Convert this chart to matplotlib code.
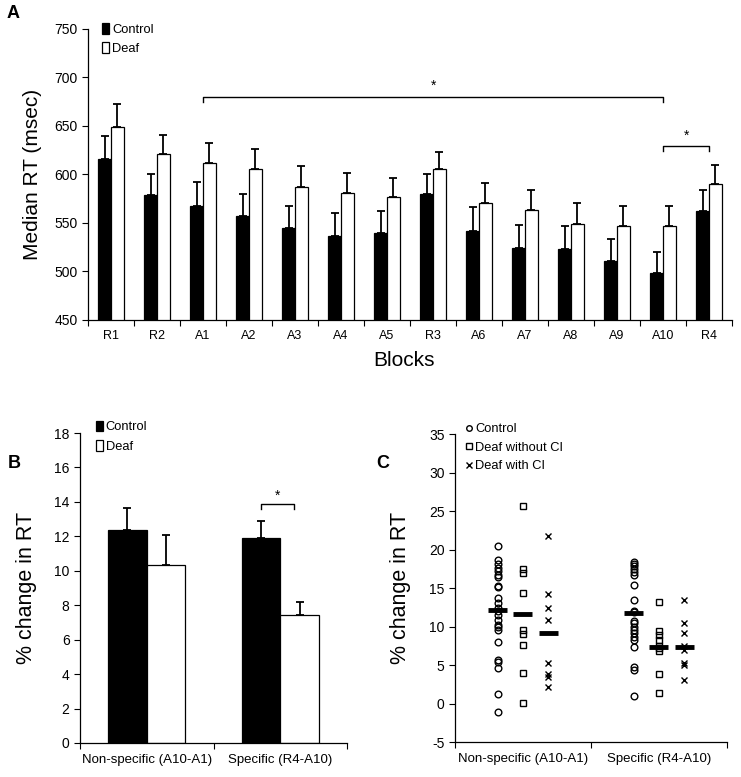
import matplotlib
matplotlib.use("Agg")
import matplotlib.pyplot as plt
import numpy as np
from matplotlib.lines import Line2D

plt.rcParams['font.family'] = ['Liberation Sans', 'DejaVu Sans']
plt.rcParams['axes.unicode_minus'] = False

# ---- panel A : median RT per block
blocks = ['R1', 'R2', 'A1', 'A2', 'A3', 'A4', 'A5', 'R3', 'A6', 'A7', 'A8', 'A9', 'A10', 'R4']
control_rt = [615.6, 578.9, 567.9, 556.9, 544.8, 536.6, 539.3, 580.2, 542.1, 524.6, 523.2, 510.8, 498.8, 562.7]
control_err = [24.4, 21.6, 24.4, 23.3, 22.7, 23.4, 23.1, 20.3, 24.1, 23.7, 23.7, 22.7, 21.0, 21.3]
deaf_rt = [649.3, 620.8, 611.5, 605.7, 586.8, 581.3, 577.1, 605.7, 570.6, 563.7, 548.6, 547.3, 547.3, 589.9]
deaf_err = [23.0, 20.2, 21.3, 20.3, 21.6, 20.6, 18.9, 17.5, 20.3, 20.3, 21.7, 20.6, 20.6, 20.2]

# ---- panel B : % change in RT
phases = ['Non-specific (A10-A1)', 'Specific (R4-A10)']
change_control = [12.35, 11.9]
change_control_err = [1.3, 1.0]
change_deaf = [10.35, 7.45]
change_deaf_err = [1.7, 0.75]

# ---- panel C : individual % change
ctrl_ns = [20.4, 18.6, 18.1, 17.6, 17.2, 16.7, 16.4, 15.3, 15.1, 13.7, 13.0, 12.4, 12.0, 11.5,
           10.9, 10.2, 9.9, 9.6, 8.0, 5.7, 5.4, 4.6, 1.3, -1.1]
nocl_ns = [25.6, 17.5, 17.0, 14.4, 9.5, 9.0, 7.6, 4.0, 0.1]
ci_ns = [21.7, 14.2, 12.4, 10.8, 5.3, 3.9, 3.4, 2.2]
ctrl_sp = [18.4, 18.1, 17.8, 17.5, 17.1, 16.7, 15.4, 13.4, 11.9, 12.0, 10.7, 10.4, 10.0, 9.5,
           9.2, 8.7, 8.2, 7.3, 4.7, 4.3, 1.0]
nocl_sp = [13.2, 9.4, 8.9, 8.2, 7.5, 7.2, 6.8, 3.8, 1.35]
ci_sp = [13.5, 10.4, 9.2, 7.5, 7.0, 5.2, 5.0, 3.0]
group_means = {'ctrl': [12.2, 11.8], 'nocl': [11.6, 7.35], 'ci': [9.2, 7.4]}

fig = plt.figure(figsize=(7.41, 7.77), dpi=100)

tick_kw = dict(direction='out', length=4, width=0.8, color='black')


def style_axes(ax):
    for s in ['top', 'right']:
        ax.spines[s].set_visible(False)
    for s in ['left', 'bottom']:
        ax.spines[s].set_linewidth(0.9)


# ================= A
axA = fig.add_axes([0.1188, 0.5882, 0.8691, 0.3745])
style_axes(axA)
n = len(blocks)
xa = np.arange(n) + 0.5
wa = 0.28
axA.bar(xa - wa / 2, control_rt, wa, color='black', edgecolor='black', lw=0.9, label='Control')
axA.bar(xa + wa / 2, deaf_rt, wa, color='white', edgecolor='black', lw=0.9, label='Deaf')
axA.errorbar(xa - wa / 2, control_rt, yerr=[np.zeros(n), control_err], fmt='none',
             ecolor='black', elinewidth=1.3, capsize=2.6, capthick=1.3)
axA.errorbar(xa + wa / 2, deaf_rt, yerr=[np.zeros(n), deaf_err], fmt='none',
             ecolor='black', elinewidth=1.3, capsize=2.6, capthick=1.3)
axA.set_xlim(0, n)
axA.set_ylim(450, 750)
axA.set_yticks(np.arange(450, 751, 50))
axA.set_xticks(np.arange(n + 1))
axA.set_xticklabels([])
axA.set_xticks(xa, minor=True)
axA.set_xticklabels(blocks, minor=True, fontsize=9)
axA.tick_params(axis='x', which='minor', length=0, pad=7)
axA.tick_params(axis='both', which='major', labelsize=10, **tick_kw)
axA.set_ylabel('Median RT (msec)', fontsize=15)
axA.yaxis.set_label_coords(-0.072, 0.5)
axA.set_xlabel('Blocks', fontsize=15)
axA.xaxis.set_label_coords(0.49, -0.105)

# significance brackets
i1, i2, i3 = blocks.index('A1'), blocks.index('A10'), blocks.index('R4')
axA.plot([xa[i1], xa[i1], xa[i2], xa[i2]], [675, 680, 680, 675], color='black', lw=1)
axA.text((xa[i1] + xa[i2]) / 2, 684, '*', ha='center', va='bottom', fontsize=10)
axA.plot([xa[i2], xa[i2], xa[i3], xa[i3]], [624.5, 629.5, 629.5, 624.5], color='black', lw=1)
axA.text((xa[i2] + xa[i3]) / 2, 633, '*', ha='center', va='bottom', fontsize=10)

axA.legend(loc='upper left', bbox_to_anchor=(0.022, 1.02), frameon=False, fontsize=9.3,
           handlelength=0.55, handleheight=0.9, handletextpad=0.2, labelspacing=0.5,
           borderaxespad=0, borderpad=0)

# ================= B
axB = fig.add_axes([0.108, 0.0438, 0.3603, 0.3989])
style_axes(axB)
xb = np.arange(len(phases)) + 0.5
wb = 0.29
axB.bar(xb - wb / 2, change_control, wb, color='black', edgecolor='black', lw=0.9, label='Control')
axB.bar(xb + wb / 2, change_deaf, wb, color='white', edgecolor='black', lw=0.9, label='Deaf')
axB.errorbar(xb - wb / 2, change_control, yerr=[np.zeros(2), change_control_err], fmt='none',
             ecolor='black', elinewidth=1.3, capsize=2.6, capthick=1.3)
axB.errorbar(xb + wb / 2, change_deaf, yerr=[np.zeros(2), change_deaf_err], fmt='none',
             ecolor='black', elinewidth=1.3, capsize=2.6, capthick=1.3)
axB.set_xlim(0, 2)
axB.set_ylim(0, 18)
axB.set_yticks(np.arange(0, 19, 2))
axB.set_xticks([0, 1, 2])
axB.set_xticklabels([])
axB.set_xticks(xb, minor=True)
axB.set_xticklabels(phases, minor=True, fontsize=9.5)
axB.tick_params(axis='x', which='minor', length=0, pad=8)
axB.tick_params(axis='both', which='major', labelsize=10, **tick_kw)
axB.set_ylabel('% change in RT', fontsize=15.5)
axB.yaxis.set_label_coords(-0.16, 0.5)
bx1 = xb[1] - wb / 2
bx2 = xb[1] + 0.1
axB.plot([bx1, bx1, bx2, bx2], [13.6, 13.87, 13.87, 13.6], color='black', lw=1)
axB.text((bx1 + bx2) / 2, 13.95, '*', ha='center', va='bottom', fontsize=10)
axB.legend(loc='upper left', bbox_to_anchor=(0.06, 1.04), frameon=False, fontsize=9.3,
           handlelength=0.55, handleheight=0.9, handletextpad=0.2, labelspacing=0.5,
           borderaxespad=0, borderpad=0)

# ================= C
axC = fig.add_axes([0.614, 0.045, 0.367, 0.3964])
style_axes(axC)
off = 0.185
mk = dict(linestyle='none', color='black', mfc='none', mew=1.0)
series = [(ctrl_ns, ctrl_sp, -off, 'o', 4.8, 'ctrl'),
          (nocl_ns, nocl_sp, 0.0, 's', 4.6, 'nocl'),
          (ci_ns, ci_sp, off, 'x', 4.6, 'ci')]
for ns_vals, sp_vals, dx, m, ms, key in series:
    for k, vals in enumerate([ns_vals, sp_vals]):
        xs = np.full(len(vals), k + 0.5 + dx)
        axC.plot(xs, vals, marker=m, ms=ms, **mk)
        axC.hlines(group_means[key][k], k + 0.5 + dx - 0.07, k + 0.5 + dx + 0.07,
                   color='black', lw=3.5, zorder=5)
axC.set_xlim(0, 2)
axC.set_ylim(-5, 35)
axC.set_yticks(np.arange(-5, 36, 5))
axC.set_xticks([0, 1, 2])
axC.set_xticklabels([])
axC.set_xticks(xb, minor=True)
axC.set_xticklabels(phases, minor=True, fontsize=9.5)
axC.tick_params(axis='x', which='minor', length=0, pad=8)
axC.tick_params(axis='both', which='major', labelsize=10, **tick_kw)
axC.set_ylabel('% change in RT', fontsize=15.5)
axC.yaxis.set_label_coords(-0.16, 0.5)
handles = [Line2D([], [], marker='o', ms=4, **mk),
           Line2D([], [], marker='s', ms=4.6, **mk),
           Line2D([], [], marker='x', ms=4.6, **mk)]
axC.legend(handles, ['Control', 'Deaf without CI', 'Deaf with CI'], loc='upper left',
           bbox_to_anchor=(0.04, 1.035), frameon=False, fontsize=9.3, handlelength=0.5,
           handletextpad=0.2, labelspacing=0.5, borderaxespad=0, borderpad=0)

fig.text(0.018, 0.982, 'A', fontsize=13, fontweight='bold', va='center', ha='center')
fig.text(0.019, 0.404, 'B', fontsize=13, fontweight='bold', va='center', ha='center')
fig.text(0.517, 0.404, 'C', fontsize=13, fontweight='bold', va='center', ha='center')

fig.savefig('out.png', dpi=100)
